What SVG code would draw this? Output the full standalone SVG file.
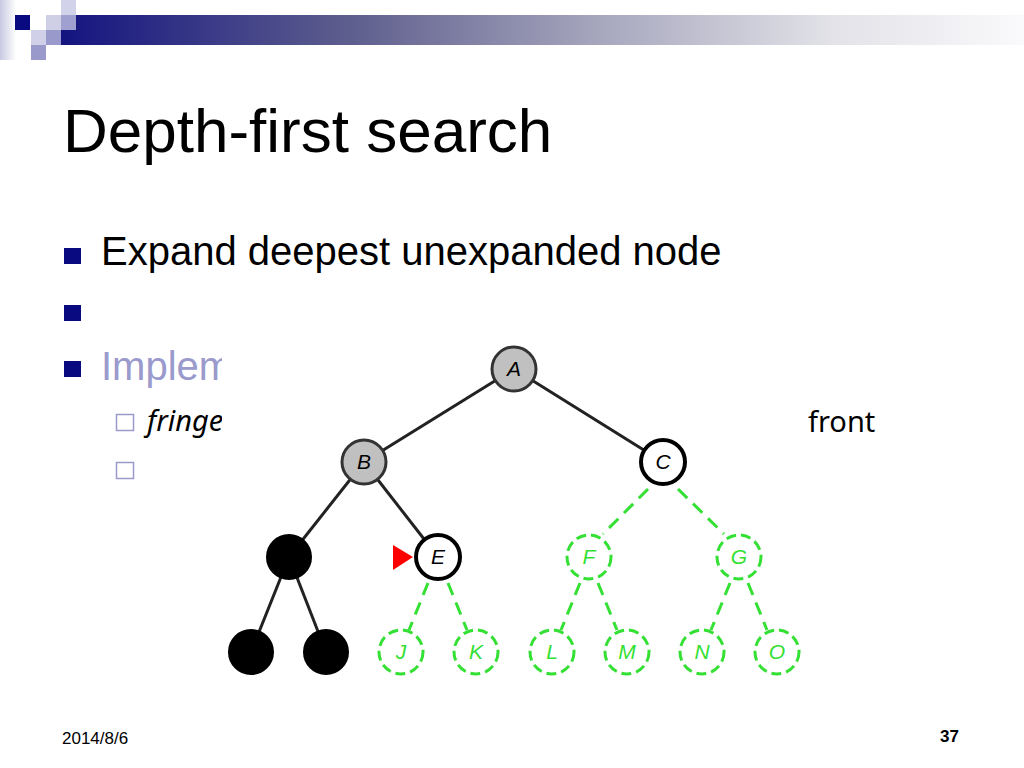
<svg xmlns="http://www.w3.org/2000/svg" width="1024" height="768" viewBox="0 0 1024 768">
<defs>
<linearGradient id="bar" x1="0" y1="0" x2="1" y2="0">
<stop offset="0" stop-color="#141480"/>
<stop offset="0.3" stop-color="#5E5E8E"/>
<stop offset="0.55" stop-color="#A4A4BC"/>
<stop offset="0.8" stop-color="#E2E2E8"/>
<stop offset="1" stop-color="#FAFAFC"/>
</linearGradient>
<linearGradient id="edge" x1="0" y1="0" x2="1" y2="0">
<stop offset="0" stop-color="#C8C8E2"/>
<stop offset="1" stop-color="#FFFFFF"/>
</linearGradient>
</defs>
<style>
.title{font-family:"Liberation Sans",Arial,sans-serif;font-size:62px;fill:#000}
.body{font-family:"Liberation Sans",Arial,sans-serif;font-size:40px;fill:#000}
.dim{fill:#9A9ACC}
.sub{font-family:"Noto Sans","Open Sans",sans-serif;font-size:29px;fill:#000}
.foot{font-family:"Liberation Sans",Arial,sans-serif;font-size:17px;fill:#000}
.bul{fill:#0A0A80}
.sbul{fill:none;stroke:#9A9ACC;stroke-width:1.5}
.e-solid{stroke:#222;stroke-width:3;fill:none}
.e-green{stroke:#33E033;stroke-width:3;fill:none;stroke-dasharray:13 8}
.n-gray{fill:#C0C0C0;stroke:#333;stroke-width:3}
.n-open{fill:#fff;stroke:#000;stroke-width:4}
.n-black{fill:#000;stroke:#000;stroke-width:2}
.n-green{fill:#fff;stroke:#33E033;stroke-width:3;stroke-dasharray:10 5}
.lbl{font-family:"Liberation Sans",Arial,sans-serif;font-size:21px;font-style:italic;text-anchor:middle;fill:#000}
.lbl-g{fill:#33E033}
</style>
<rect width="1024" height="768" fill="#fff"/>
<g id="decoration">
<rect x="0" y="0" width="16" height="60" fill="url(#edge)"/>
<rect x="61" y="15" width="963" height="30" fill="url(#bar)"/>
<rect x="15" y="15" width="15" height="15" fill="#0A0A80"/>
<rect x="46" y="15" width="15" height="15" fill="#CFCFE6"/>
<rect x="61" y="15" width="15" height="15" fill="#A0A0D0"/>
<rect x="61" y="0" width="15" height="15" fill="#D2D2EA"/>
<rect x="31" y="30" width="15" height="15" fill="#D0D0E8"/>
<rect x="46" y="30" width="15" height="15" fill="#9999CC"/>
<rect x="31" y="45" width="15" height="15" fill="#9999CC"/>
</g>
<text class="title" x="63" y="152">Depth-first search</text>
<rect class="bul" x="64" y="248" width="17" height="16"/>
<text class="body" x="101" y="265">Expand deepest unexpanded node</text>
<rect class="bul" x="64" y="305" width="17" height="16"/>
<rect class="bul" x="64" y="361" width="17" height="16"/>
<text class="body dim" x="101" y="380">Implem</text>
<rect class="sbul" x="116.5" y="414.5" width="17" height="16"/>
<text class="sub" font-style="italic" x="147" y="431">fringe</text>
<text class="sub" x="808" y="432">front</text>
<rect class="sbul" x="116.5" y="462.5" width="17" height="16"/>
<rect id="tree-image" x="222" y="335" width="580" height="356" fill="#fff"/>
<g id="connectors">
<line class="e-solid" x1="514" y1="369" x2="364" y2="462"/>
<line class="e-solid" x1="514" y1="369" x2="663" y2="462"/>
<line class="e-solid" x1="364" y1="462" x2="289" y2="557"/>
<line class="e-solid" x1="364" y1="462" x2="438" y2="557"/>
<line class="e-solid" x1="289" y1="557" x2="251" y2="652"/>
<line class="e-solid" x1="289" y1="557" x2="326" y2="652"/>
<line class="e-green" x1="648" y1="489" x2="603" y2="534"/>
<line class="e-green" x1="678" y1="489" x2="724" y2="534"/>
<line class="e-green" x1="428" y1="583" x2="409" y2="630"/>
<line class="e-green" x1="448" y1="583" x2="467" y2="630"/>
<line class="e-green" x1="580" y1="583" x2="561" y2="630"/>
<line class="e-green" x1="598" y1="583" x2="617" y2="630"/>
<line class="e-green" x1="730" y1="583" x2="711" y2="630"/>
<line class="e-green" x1="748" y1="583" x2="767" y2="630"/>
</g>
<g id="nodes">
<g id="node-A"><circle class="n-gray" cx="514" cy="369" r="22"/><text class="lbl" x="514" y="376">A</text></g>
<g id="node-B"><circle class="n-gray" cx="364" cy="462" r="22"/><text class="lbl" x="364" y="469">B</text></g>
<g id="node-C"><circle class="n-open" cx="663" cy="462" r="22"/><text class="lbl" x="663" y="469">C</text></g>
<g id="node-D"><circle class="n-black" cx="289" cy="557" r="22"/></g>
<g id="node-E"><circle class="n-open" cx="438" cy="557" r="22"/><text class="lbl" x="438" y="564">E</text></g>
<g id="node-F"><circle class="n-green" cx="589" cy="557" r="22"/><text class="lbl lbl-g" x="589" y="564">F</text></g>
<g id="node-G"><circle class="n-green" cx="739" cy="557" r="22"/><text class="lbl lbl-g" x="739" y="564">G</text></g>
<g id="node-H"><circle class="n-black" cx="251" cy="652" r="22"/></g>
<g id="node-I"><circle class="n-black" cx="326" cy="652" r="22"/></g>
<g id="node-J"><circle class="n-green" cx="401" cy="652" r="22"/><text class="lbl lbl-g" x="401" y="659">J</text></g>
<g id="node-K"><circle class="n-green" cx="476" cy="652" r="22"/><text class="lbl lbl-g" x="476" y="659">K</text></g>
<g id="node-L"><circle class="n-green" cx="552" cy="652" r="22"/><text class="lbl lbl-g" x="552" y="659">L</text></g>
<g id="node-M"><circle class="n-green" cx="627" cy="652" r="22"/><text class="lbl lbl-g" x="627" y="659">M</text></g>
<g id="node-N"><circle class="n-green" cx="702" cy="652" r="22"/><text class="lbl lbl-g" x="702" y="659">N</text></g>
<g id="node-O"><circle class="n-green" cx="777" cy="652" r="22"/><text class="lbl lbl-g" x="777" y="659">O</text></g>
<g id="pointer"><polygon points="393,545 393,570 413,557" fill="#FF0000"/></g>
</g>
<text class="foot" x="62" y="744">2014/8/6</text>
<text class="foot" font-weight="bold" x="940" y="742">37</text>
</svg>
